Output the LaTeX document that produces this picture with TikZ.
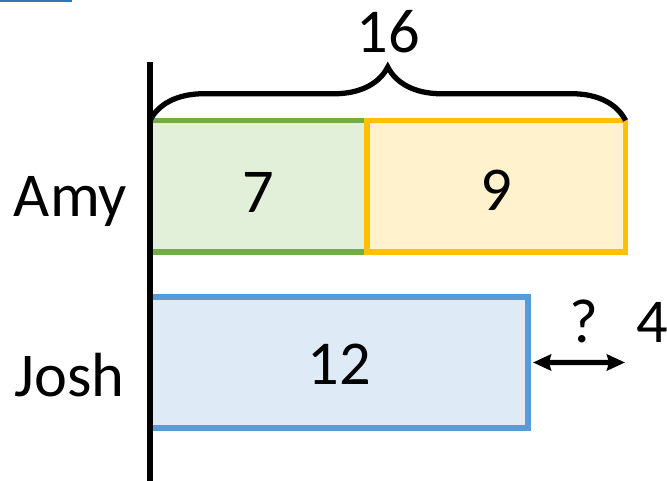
\documentclass[tikz,border=0pt]{standalone}
\usepackage{fontspec}
\setmainfont{Carlito}
\usetikzlibrary{positioning}
\usetikzlibrary{arrows.meta}
\usetikzlibrary{decorations.pathreplacing}
\definecolor{lineg}{HTML}{70AD47}
\definecolor{fillg}{HTML}{E2F0D9}
\definecolor{liney}{HTML}{FFC000}
\definecolor{filly}{HTML}{FFF2CC}
\definecolor{lineb}{HTML}{5B9BD5}
\definecolor{fillb}{HTML}{DEEBF7}
\definecolor{topbar}{HTML}{2E75B6}
\tikzset{
    mybarg/.style = {rectangle, line width=3pt, draw=lineg, fill=fillg, minimum width=4.34cm, minimum height=2.63cm, inner sep=0pt, outer sep=0pt},
    mybary/.style = {rectangle, line width=3pt, draw=liney, fill=filly, minimum width=5.17cm, minimum height=2.63cm, inner sep=0pt, outer sep=0pt},
    mybarb/.style = {rectangle, line width=3pt, draw=lineb, fill=fillb, minimum width=7.56cm, minimum height=2.62cm, inner sep=0pt, outer sep=0pt},
    mytext/.style = {anchor=base, inner sep=0pt, font=\fontsize{35.5}{42}\selectfont, text=black},
    edgen/.style = {-, line width=3pt, black}, % axis
    edgeb/.style = {decorate, decoration={brace, amplitude=1.07cm}, line width=3pt, black}, % total
    edgea/.style = {{Stealth[length=0.36cm, width=0.32cm, inset=0.04cm]}-{Stealth[length=0.36cm, width=0.32cm, inset=0.04cm]}, line width=3pt, black, shorten <=0.1cm}, % gap
}
\begin{document}
\begin{tikzpicture}
  \useasboundingbox (0,0) rectangle (13.34,9.62);
  \fill[topbar] (0,9.58) rectangle (1.44,9.62);
  % bars
  \node[mybarg, anchor=south west] (amyg) at (3.0,4.58) {};
  \node[mybary, right=0pt of amyg] (amyy) {};
  \node[mybarb, below=0.9cm of amyg.south west, anchor=north west] (josh) {};
  % numbers and names
  \node[mytext] (t7) at ([yshift=-0.52cm]amyg.center) {7};
  \node[mytext] (t9) at ([yshift=-0.48cm]amyy.center) {9};
  \node[mytext] (t12) at ([yshift=-0.45cm]josh.center) {12};
  \node[mytext] (amy) at (1.41,5.28) {Amy};
  \node[mytext] (joshname) at (1.39,1.68) {Josh};
  \node[mytext] (total) at (7.76,8.56) {16};
  \node[mytext] (q) at (11.68,2.76) {?};
  \node[mytext] (four) at (13.04,2.76) {4};
  \coordinate (axtop) at (3.0,8.38);
  \coordinate (axbot) at (3.0,0);
  \coordinate (gapend) at (12.5,2.37);
  \draw[edgeb] (amyg.north west) -- (amyy.north east);
  \draw[edgea] (josh.east) -- (gapend);
  \draw[edgen] (axtop) -- (axbot);
\end{tikzpicture}
\end{document}
